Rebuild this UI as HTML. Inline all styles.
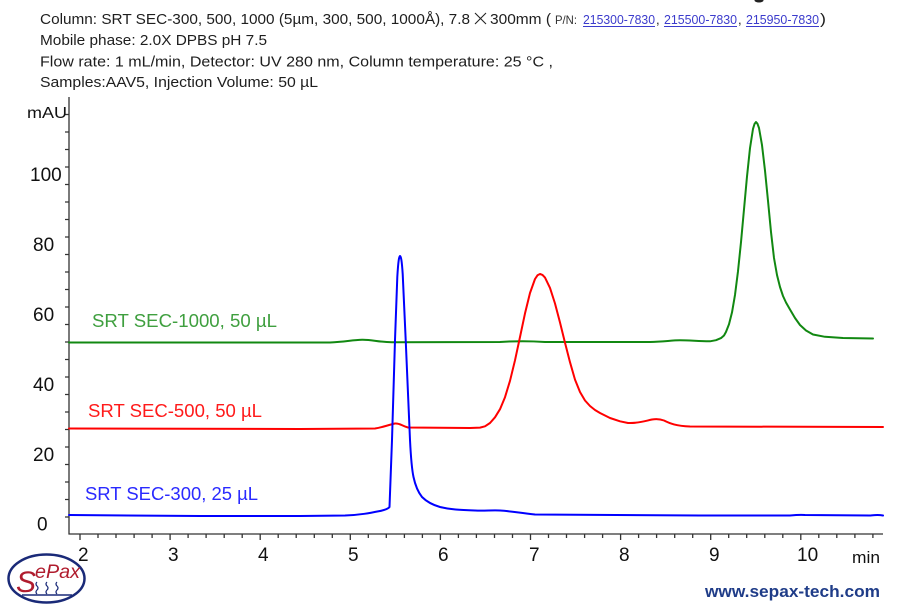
<!DOCTYPE html>
<html>
<head>
<meta charset="utf-8">
<style>
html,body{margin:0;padding:0;background:#fff;}
svg{display:block;}
text{font-family:"Liberation Sans",Arial,sans-serif;}
</style>
</head>
<body>
<svg width="900" height="605" viewBox="0 0 900 605" xmlns="http://www.w3.org/2000/svg">
<rect width="900" height="605" fill="#fff"/>
<ellipse cx="759" cy="0.5" rx="4.5" ry="2" fill="#222"/>

<!-- Header -->
<g fill="#1e1e1e" font-size="15">
<text x="40" y="24" textLength="430" lengthAdjust="spacingAndGlyphs">Column: SRT SEC-300, 500, 1000 (5µm, 300, 500, 1000Å), 7.8</text>
<text x="490" y="24" textLength="61" lengthAdjust="spacingAndGlyphs">300mm (</text>
<text x="555" y="24" font-size="12" fill="#333" textLength="22" lengthAdjust="spacingAndGlyphs">P/N:</text>
<text x="583" y="24" font-size="13" fill="#3b3bcc" textLength="72" lengthAdjust="spacingAndGlyphs">215300-7830</text>
<text x="656" y="24" font-size="13">,</text>
<text x="664" y="24" font-size="13" fill="#3b3bcc" textLength="73" lengthAdjust="spacingAndGlyphs">215500-7830</text>
<text x="738" y="24" font-size="13">,</text>
<text x="746" y="24" font-size="13" fill="#3b3bcc" textLength="73" lengthAdjust="spacingAndGlyphs">215950-7830</text>
<text x="820" y="24" textLength="6" lengthAdjust="spacingAndGlyphs">)</text>
<text x="40" y="45" textLength="227" lengthAdjust="spacingAndGlyphs">Mobile phase: 2.0X DPBS pH 7.5</text>
<text x="40" y="66.5" textLength="513" lengthAdjust="spacingAndGlyphs">Flow rate: 1 mL/min, Detector: UV 280 nm, Column temperature: 25 °C ,</text>
<text x="40" y="87" textLength="278" lengthAdjust="spacingAndGlyphs">Samples:AAV5, Injection Volume: 50 µL</text>
</g>
<g stroke="#222" stroke-width="1.1">
<line x1="475" y1="13" x2="486" y2="24"/>
<line x1="486" y1="13" x2="475" y2="24"/>
</g>
<g stroke="#3b3bcc" stroke-width="1">
<line x1="583" y1="26.5" x2="655" y2="26.5"/>
<line x1="664" y1="26.5" x2="737" y2="26.5"/>
<line x1="746" y1="26.5" x2="819" y2="26.5"/>
</g>

<!-- Axes -->
<g stroke="#333" stroke-width="1.3" fill="none">
<line x1="69" y1="97" x2="69" y2="534.5"/>
<line x1="68.5" y1="534" x2="883" y2="534"/>
<path d="M65,517H69M65,499.5H69M65,482H69M65,464.5H69M65,447H69M65,429.5H69M65,412H69M65,394.5H69M65,377H69M65,359.5H69M65,342H69M65,324.5H69M65,307H69M65,289.5H69M65,272H69M65,254.5H69M65,237H69M65,219.5H69M65,202H69M65,184.5H69M65,167H69M65,149.5H69M65,132H69M65,114.5H69"/>
<path d="M98,534V538M116,534V538M134.1,534V538M152.1,534V538M188.1,534V538M206.1,534V538M224.2,534V538M242.2,534V538M278.2,534V538M296.2,534V538M314.3,534V538M332.3,534V538M368.3,534V538M386.3,534V538M404.4,534V538M422.4,534V538M458.4,534V538M476.4,534V538M494.5,534V538M512.5,534V538M548.5,534V538M566.5,534V538M584.6,534V538M602.6,534V538M638.6,534V538M656.6,534V538M674.7,534V538M692.7,534V538M728.7,534V538M746.7,534V538M764.8,534V538M782.8,534V538M818.8,534V538M836.8,534V538M854.9,534V538M872.9,534V538"/>
<path d="M80,534V540M170.1,534V540M260.2,534V540M350.3,534V540M440.4,534V540M530.5,534V540M620.6,534V540M710.7,534V540M800.8,534V540"/>
</g>

<!-- Axis labels -->
<g fill="#111" font-size="19">
<text x="27" y="118" font-size="16" textLength="40" lengthAdjust="spacingAndGlyphs">mAU</text>
<text x="30" y="181">100</text>
<text x="33" y="251">80</text>
<text x="33" y="321">60</text>
<text x="33" y="391">40</text>
<text x="33" y="461">20</text>
<text x="37" y="530.5">0</text>
<text x="78" y="561">2</text>
<text x="168" y="561">3</text>
<text x="258" y="561">4</text>
<text x="348" y="561">5</text>
<text x="438" y="561">6</text>
<text x="529" y="561">7</text>
<text x="619" y="561">8</text>
<text x="709" y="561">9</text>
<text x="797" y="561">10</text>
<text x="852" y="563" font-size="17" textLength="28" lengthAdjust="spacingAndGlyphs">min</text>
</g>

<!-- Series labels -->
<text x="92" y="327" font-size="18" fill="#3f9f3f" textLength="185" lengthAdjust="spacingAndGlyphs">SRT SEC-1000, 50 µL</text>
<text x="88" y="417" font-size="18" fill="#ff1a1a" textLength="174" lengthAdjust="spacingAndGlyphs">SRT SEC-500, 50 µL</text>
<text x="85" y="500" font-size="18" fill="#2a2aff" textLength="173" lengthAdjust="spacingAndGlyphs">SRT SEC-300, 25 µL</text>

<!-- Traces -->
<g fill="none" stroke-width="2" stroke-linejoin="round" stroke-linecap="round">
<path stroke="#118811" d="M69,342.5 L330,342.5 C345,342 352,340 362,339.8 C372,339.6 378,342 392,342.3 L500,342 C515,341 530,341 545,342 L650,342 C665,341.5 672,340.3 680,340.3 C690,340.3 700,341.4 710,341.3 L716,340.2 L721,338.1 L724,335.5 L726,331.9 L729,324.3 L732,312.4 L735,294.9 L738,271.2 L741,242.1 L744,209.3 L747,176.5 L750,148.1 L753,128.9 L754.5,124 L756,122 L757.5,123.8 L759,128 L762,145.1 L765,170.6 L768,200.8 L771,232 L774,258 L777,275 L780,287 L783,296 L786,302.5 L790,309.5 L795,318 L800,325 L806,330.5 L813,334.5 L825,336.8 L843,338 L873,338.5"/>
<path stroke="#ff0000" d="M69,428.5 L300,429 L375,428.5 C382,427.5 388,425 395,423.5 C400,423 402,426 408,427.5 L470,428 L480,427.6 L485,426.3 L490,423 L495,417.3 L500,409.2 L505,397.2 L510,380.8 L515,360.3 L520,337 L525,313.4 L530,293 L535,279 L537.5,275.3 L540,274 L542.5,274.9 L545,277.6 L550,287.9 L555,303.5 L560,322.5 L565,342.7 L570,362.2 L575,379.6 L580,392 L585,400.5 L590,406 L595,410 L600,413 L610,418 L620,421.3 L628,423 C638,423.5 645,421 652,419.5 C656,418.8 660,419 664,420.5 C670,423.5 676,426 690,426.5 L883,427"/>
<path stroke="#0000ff" d="M69,515 L200,516 L300,516 L345,515.5 C360,515 370,513 380,511 C385,510 388,509 389.5,507 L392,440 L395,340 L397.3,277 C398.3,260 399.2,256 400,256 C400.9,256 401.8,260 402.7,274 L405.7,340 L410,440 C411,460 412,470 413.5,477 C415,484 418,492 422,497 C427,502 433,505 440,507 C450,509.5 460,510 475,510.5 C485,511 492,510 500,510.5 C510,511 520,513 535,514.5 L700,515.5 L790,515.5 C795,515 800,514.5 805,515 L870,515.5 C875,515 878,514.5 883,515.5"/>
</g>

<!-- Logo -->
<g>
<ellipse cx="46.5" cy="578.5" rx="38" ry="24" fill="#fff" stroke="#1a2a78" stroke-width="2.5"/>
<line x1="22" y1="595" x2="72" y2="595" stroke="#1a2a78" stroke-width="1.5"/>
<text x="16" y="592" font-family="'Liberation Serif',serif" font-style="italic" font-size="30" fill="#b01c2e">S</text>
<text x="35" y="578" font-family="'Liberation Serif',serif" font-style="italic" font-size="19" fill="#b01c2e" textLength="45" lengthAdjust="spacingAndGlyphs">ePax</text>
<g fill="none" stroke="#1a2a78" stroke-width="1.2">
<path d="M37,594 q-2,-2 0,-4 q2,-2 0,-4 q-2,-2 0,-4"/>
<path d="M47,594 q-2,-2 0,-4 q2,-2 0,-4 q-2,-2 0,-4"/>
<path d="M57,594 q-2,-2 0,-4 q2,-2 0,-4 q-2,-2 0,-4"/>
</g>
</g>

<!-- Website -->
<text x="705" y="597" font-size="17" font-weight="bold" fill="#1f3c88" textLength="175" lengthAdjust="spacingAndGlyphs">www.sepax-tech.com</text>
</svg>
</body>
</html>
